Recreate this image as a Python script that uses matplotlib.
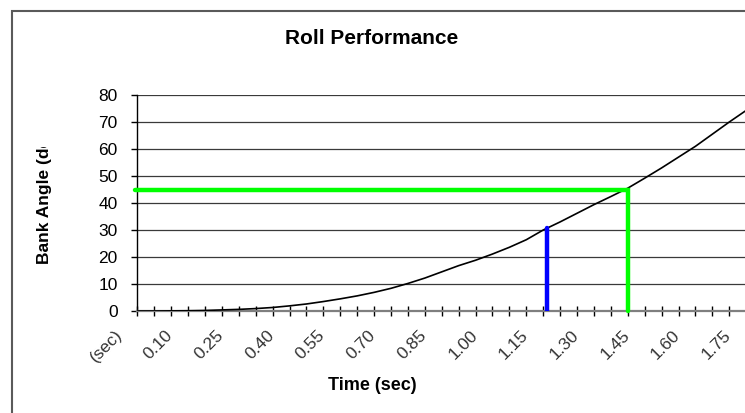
import numpy as np
import matplotlib
matplotlib.use("Agg")
import matplotlib.pyplot as plt
from matplotlib.patches import Rectangle

plt.rcParams['font.family'] = ['Liberation Sans', 'DejaVu Sans']

# Roll response: bank angle (deg) sampled every 0.05 s
time_s = [0.00, 0.05, 0.10, 0.15, 0.20, 0.25, 0.30, 0.35, 0.40, 0.45,
          0.50, 0.55, 0.60, 0.65, 0.70, 0.75, 0.80, 0.85, 0.90, 0.95,
          1.00, 1.05, 1.10, 1.15, 1.20, 1.25, 1.30, 1.35, 1.40, 1.45,
          1.50, 1.55, 1.60, 1.65, 1.70, 1.75, 1.80]
bank_deg = [0.0, 0.0, 0.05, 0.1, 0.2, 0.4, 0.6, 0.9, 1.3, 1.9,
            2.6, 3.5, 4.5, 5.6, 6.9, 8.4, 10.2, 12.2, 14.5, 16.8,
            18.8, 21.1, 23.6, 26.4, 30.0, 33.0, 36.2, 39.4, 42.4, 45.5,
            49.2, 53.0, 57.0, 61.0, 65.5, 70.0, 74.3]

# Category labels shown under the axis (every third category)
label_times = [-0.05, 0.10, 0.25, 0.40, 0.55, 0.70, 0.85, 1.00,
               1.15, 1.30, 1.45, 1.60, 1.75]
label_texts = ["(sec)", "0.10", "0.25", "0.40", "0.55", "0.70", "0.85",
               "1.00", "1.15", "1.30", "1.45", "1.60", "1.75"]
y_ticks = [0, 10, 20, 30, 40, 50, 60, 70, 80]

# Reference markers
marker_time = 1.21
marker_angle = 30.6
target_time = 1.45
target_angle = 45.0

W, H = 745, 413
fig = plt.figure(figsize=(W / 100, H / 100), dpi=100)
fig.patch.set_facecolor("white")

# chart border
fig.add_artist(Rectangle((11.5 / W, -0.1), 2.0, (H - 11.5) / H + 0.1,
                         transform=fig.transFigure, fill=False,
                         edgecolor="#5a5a5a", linewidth=1.5))

left_px, right_px, top_px, bottom_px = 137.3, 746.2, 95.0, 311.0
ax = fig.add_axes([left_px / W, (H - bottom_px) / H,
                   (right_px - left_px) / W, (bottom_px - top_px) / H])
ax.set_xlim(0, 1.80)
ax.set_ylim(0, 80)
ax.set_facecolor("white")

for s in ["top", "right"]:
    ax.spines[s].set_visible(False)
ax.spines["left"].set_color("black")
ax.spines["left"].set_linewidth(1.0)
ax.spines["bottom"].set_color("#7f7f7f")
ax.spines["bottom"].set_linewidth(1.6)

ax.set_yticks(y_ticks)
ax.set_yticklabels([str(v) for v in y_ticks])
ax.tick_params(axis="y", direction="out", length=4, width=1.0,
               color="black", labelsize=12.5, pad=10)
for v in y_ticks[1:]:
    ax.axhline(v, color="#3a3a3a", linewidth=0.9, zorder=1)

ax.set_xticks(np.round(np.arange(0, 1.80, 0.05), 2))
ax.set_xticklabels([])
ax.tick_params(axis="x", direction="inout", length=7, width=1.0, color="black")

ax.plot(time_s, bank_deg, color="black", linewidth=1.2, zorder=3,
        clip_on=True)

ax.plot([marker_time, marker_time], [0, marker_angle], color="#0000ff",
        linewidth=3.2, solid_capstyle="round", zorder=4)
ax.plot([-0.008, target_time, target_time], [target_angle, target_angle, 0],
        color="#00ff00", linewidth=3.2, solid_capstyle="round",
        solid_joinstyle="miter", zorder=4, clip_on=False)

trans = matplotlib.transforms.blended_transform_factory(ax.transData, ax.transAxes)
for t, lab in zip(label_times, label_texts):
    ax.text(t - 0.002, -0.1, lab, transform=trans, rotation=45,
            rotation_mode="anchor", ha="right", va="center",
            fontsize=12.5, color="#333333", clip_on=False)

fig.text(372 / W, 1 - 38 / H, "Roll Performance", ha="center", va="center",
         fontsize=15, fontweight="bold")
fig.text(372 / W, 1 - 385 / H, "Time (sec)", ha="center", va="center",
         fontsize=13, fontweight="bold")

ylab = fig.text(45 / W, 1 - 264 / H, "Bank Angle (deg)", rotation=90,
                rotation_mode="anchor", ha="left", va="center",
                fontsize=12.5, fontweight="bold")
clip_rect = Rectangle((0, 0), 1, 1 - 147 / H, transform=fig.transFigure,
                      visible=False)
fig.add_artist(clip_rect)
ylab.set_clip_path(clip_rect)

fig.savefig("out.png", dpi=100, facecolor="white")
